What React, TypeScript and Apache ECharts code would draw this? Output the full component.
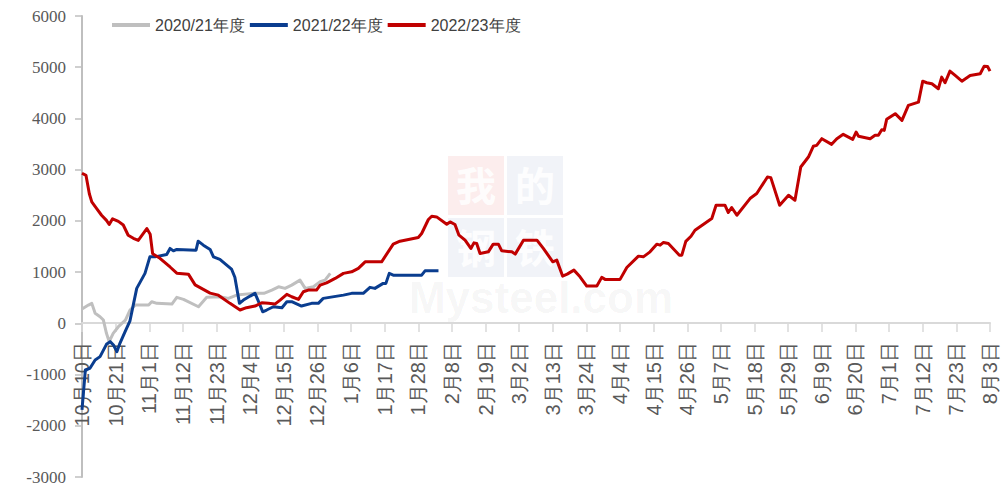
import React, { useEffect, useRef } from "react";
import * as echarts from "echarts";

// Day index (0 = 10月10日, 297 = 8月3日) and value pairs
const SERIES_NAMES = ["2020/21年度", "2021/22年度", "2022/23年度"];
const SERIES_COLORS = ["#BFBFBF", "#0A3D8F", "#C00000"];

const TICK_LABELS = [
  "10月10日", "10月21日", "11月1日", "11月12日", "11月23日", "12月4日", "12月15日",
  "12月26日", "1月6日", "1月17日", "1月28日", "2月8日", "2月19日", "3月2日",
  "3月13日", "3月24日", "4月4日", "4月15日", "4月26日", "5月7日", "5月18日",
  "5月29日", "6月9日", "6月20日", "7月1日", "7月12日", "7月23日", "8月3日",
];

const GREY_2020: [number, number][] = [
  [0, 280], [2.1, 357], [3.2, 390], [4.3, 195], [5.9, 129], [7, 64], [8, -195],
  [8.9, -358], [10.2, -195], [11.9, -66], [14.2, 64], [15.7, 260], [17.4, 357],
  [21.8, 357], [22.8, 422], [24.5, 390], [29.4, 376], [31, 507], [33.2, 468],
  [38.1, 324], [40.8, 507], [45.1, 519], [47.9, 487], [50.6, 551], [56, 585],
  [59.5, 585], [62.1, 649], [64.3, 713], [66.4, 682], [68.6, 746], [71.3, 844],
  [73, 682], [75.7, 713], [77.9, 811], [79.5, 844], [81.2, 975],
];

const BLUE_2021: [number, number][] = [
  [0, -1690], [1.1, -910], [2.6, -877], [4.3, -715], [5.9, -650], [8, -410],
  [9.2, -358], [10.3, -423], [11.4, -553], [12.4, -390], [14.1, -163], [15.7, 50],
  [17.9, 682], [20.6, 975], [22.2, 1298], [23.9, 1298], [27.7, 1345], [28.8, 1462],
  [29.9, 1415], [31, 1442], [37.3, 1428], [38, 1604], [39.7, 1526], [41.9, 1442],
  [43, 1298], [45.1, 1250], [48.9, 1060], [50, 900], [51.5, 390], [52.8, 454],
  [55, 532], [56.6, 585], [58, 390], [59.1, 226], [60.4, 260], [62.6, 324],
  [65.4, 305], [67, 422], [68.6, 422], [71.8, 337], [75.1, 390], [77.3, 390],
  [78.9, 487], [85.5, 551], [88.2, 585], [92, 585], [94.2, 702], [95.8, 682],
  [98.5, 780], [99.4, 780], [100.5, 975], [101.8, 941], [107.2, 941], [111.1, 941],
  [112.2, 1025], [116.6, 1025],
];

const RED_2022: [number, number][] = [
  [0, 2930], [1.3, 2890], [2.4, 2530], [3.2, 2370], [4.8, 2240], [6.4, 2110],
  [8, 2010], [8.9, 1930], [10, 2040], [11.9, 1990], [13.5, 1920], [15.1, 1720],
  [16.8, 1660], [18.4, 1620], [21.2, 1850], [22.3, 1740], [23.1, 1360], [25.5, 1270],
  [28.8, 1100], [31, 980], [34.8, 960], [37, 750], [41.9, 590], [44.6, 550],
  [48.4, 390], [51.7, 260], [53.8, 305], [56.6, 337], [58.8, 402], [61, 390],
  [63.1, 376], [64.8, 454], [67, 565], [68.6, 519], [70.8, 468], [72.4, 616],
  [74, 649], [76.7, 649], [77.9, 746], [80, 791], [82.8, 877], [85.5, 975],
  [88.2, 1006], [90.4, 1072], [92.6, 1201], [98, 1201], [101.8, 1546], [104, 1604],
  [110, 1676], [111.1, 1754], [113.3, 2027], [114.4, 2091], [116, 2078], [119.3, 1935],
  [120.4, 1980], [122, 1930], [123.3, 1721], [125.3, 1624], [127.2, 1462], [128.2, 1571],
  [129.1, 1559], [130.2, 1364], [132.9, 1396], [134.5, 1546], [136.2, 1546], [137.3, 1415],
  [140.6, 1396], [141.7, 1351], [144.4, 1624], [148.8, 1624], [150.9, 1462], [154, 1201],
  [155.3, 1234], [157.2, 922], [158.7, 961], [160.9, 1039], [162.9, 909], [165.1, 727],
  [168.4, 727], [170, 897], [171.1, 858], [176, 858], [178.2, 1091], [182, 1312],
  [183.6, 1298], [185.8, 1396], [188, 1546], [189.1, 1526], [190.2, 1579], [191.8, 1559],
  [195.4, 1331], [196.2, 1331], [197.5, 1600], [199.2, 1700], [200.5, 1818], [206, 2046],
  [207.4, 2306], [210.3, 2306], [211.4, 2163], [212.5, 2261], [214.2, 2111], [218.5, 2436],
  [220.7, 2534], [224.2, 2857], [225.3, 2845], [228.2, 2306], [231.1, 2500], [233.2, 2403],
  [235.1, 3052], [237.6, 3247], [239.2, 3456], [240.3, 3475], [242, 3605], [245.2, 3494],
  [246.9, 3605], [249, 3690], [252.1, 3592], [253.2, 3734], [254, 3651], [257.8, 3605],
  [259.4, 3670], [260.5, 3670], [261.6, 3781], [262.4, 3767], [263.2, 3982], [266, 4093],
  [268.2, 3962], [270.3, 4255], [273.6, 4319], [275, 4728], [276.3, 4697], [278, 4678],
  [280.1, 4580], [281.2, 4806], [282.3, 4697], [283.9, 4923], [285.6, 4839], [287.8, 4728],
  [290.5, 4839], [293.8, 4872], [295.1, 5021], [296.2, 5015], [297, 4923],
];

const SERIES_DATA = [GREY_2020, BLUE_2021, RED_2022];

const Y_MIN = -3000;
const Y_MAX = 6000;
const Y_STEP = 1000;
const X_STEP = 11;
const X_MAX = 297;

export default function App() {
  const ref = useRef<HTMLDivElement>(null);

  useEffect(() => {
    if (!ref.current) return;
    const chart = echarts.init(ref.current, undefined, { renderer: "svg" });
    const wmCells = [
      { ch: "我", x: 448, y: 156, fill: "rgba(220,60,60,0.09)" },
      { ch: "的", x: 507, y: 156, fill: "rgba(60,90,150,0.07)" },
      { ch: "钢", x: 448, y: 218, fill: "rgba(60,90,150,0.07)" },
      { ch: "铁", x: 507, y: 218, fill: "rgba(60,90,150,0.07)" },
    ];
    const graphic: any[] = [];
    wmCells.forEach((c) => {
      graphic.push({
        type: "rect",
        z: -10,
        silent: true,
        shape: { x: c.x, y: c.y, width: 56, height: 59 },
        style: { fill: c.fill },
      });
      graphic.push({
        type: "text",
        z: -9,
        silent: true,
        x: c.x + 28,
        y: c.y + 28,
        style: {
          text: c.ch,
          fill: "rgba(255,255,255,0.9)",
          font: "bold 40px 'Noto Sans CJK SC'",
          align: "center",
          verticalAlign: "middle",
        },
      });
    });
    graphic.push({
      type: "text",
      z: -10,
      silent: true,
      x: 541,
      y: 297,
      style: {
        text: "Mysteel.com",
        fill: "rgba(0,0,0,0.045)",
        font: "bold 44px 'Liberation Sans', Arial, sans-serif",
        align: "center",
        verticalAlign: "middle",
      },
    });

    chart.setOption({
      animation: false,
      backgroundColor: "#ffffff",
      graphic,
      legend: {
        data: SERIES_NAMES,
        left: 107,
        top: 12,
        itemWidth: 38,
        itemHeight: 4,
        itemGap: 5,
        icon: "rect",
        textStyle: {
          fontSize: 16,
          color: "#404040",
          fontFamily: "'Liberation Sans', Arial, sans-serif",
        },
      },
      grid: {
        left: 82,
        right: 15,
        top: 16,
        bottom: 13,
        containLabel: false,
        outerBoundsMode: "none",
      },
      xAxis: {
        type: "value",
        min: 0,
        max: X_MAX,
        interval: X_STEP,
        offset: -154,
        splitLine: { show: false },
        axisLine: { show: true, onZero: false, lineStyle: { color: "#D9D9D9", width: 2 } },
        axisTick: { show: true, length: 9, lineStyle: { color: "#D9D9D9", width: 1.5 } },
        axisLabel: {
          rotate: 90,
          margin: 19,
          fontSize: 20,
          color: "#595959",
          fontFamily: "'Liberation Sans', Arial, sans-serif",
          showMinLabel: true,
          showMaxLabel: true,
          formatter: (v: number) => TICK_LABELS[Math.round(v / X_STEP)] ?? "",
        },
      },
      yAxis: {
        type: "value",
        min: Y_MIN,
        max: Y_MAX,
        interval: Y_STEP,
        splitLine: { show: false },
        axisLine: { show: true, onZero: false, lineStyle: { color: "#BFBFBF", width: 2 } },
        axisTick: { show: true, length: 7, lineStyle: { color: "#BFBFBF", width: 1.5 } },
        axisLabel: {
          margin: 16,
          fontSize: 17,
          color: "#595959",
          fontFamily: "'Liberation Serif', 'Times New Roman', serif",
          formatter: (v: number) => String(v),
        },
      },
      series: SERIES_NAMES.map((name, i) => ({
        name,
        type: "line",
        data: SERIES_DATA[i],
        showSymbol: false,
        symbol: "none",
        smooth: false,
        color: SERIES_COLORS[i],
        lineStyle: { width: 3, color: SERIES_COLORS[i], join: "round" },
        z: 2 + i,
      })),
    });
    return () => chart.dispose();
  }, []);

  return (
    <div
      ref={ref}
      style={{ position: "fixed", left: 0, top: 0, width: 1005, height: 490, background: "#fff" }}
    />
  );
}
